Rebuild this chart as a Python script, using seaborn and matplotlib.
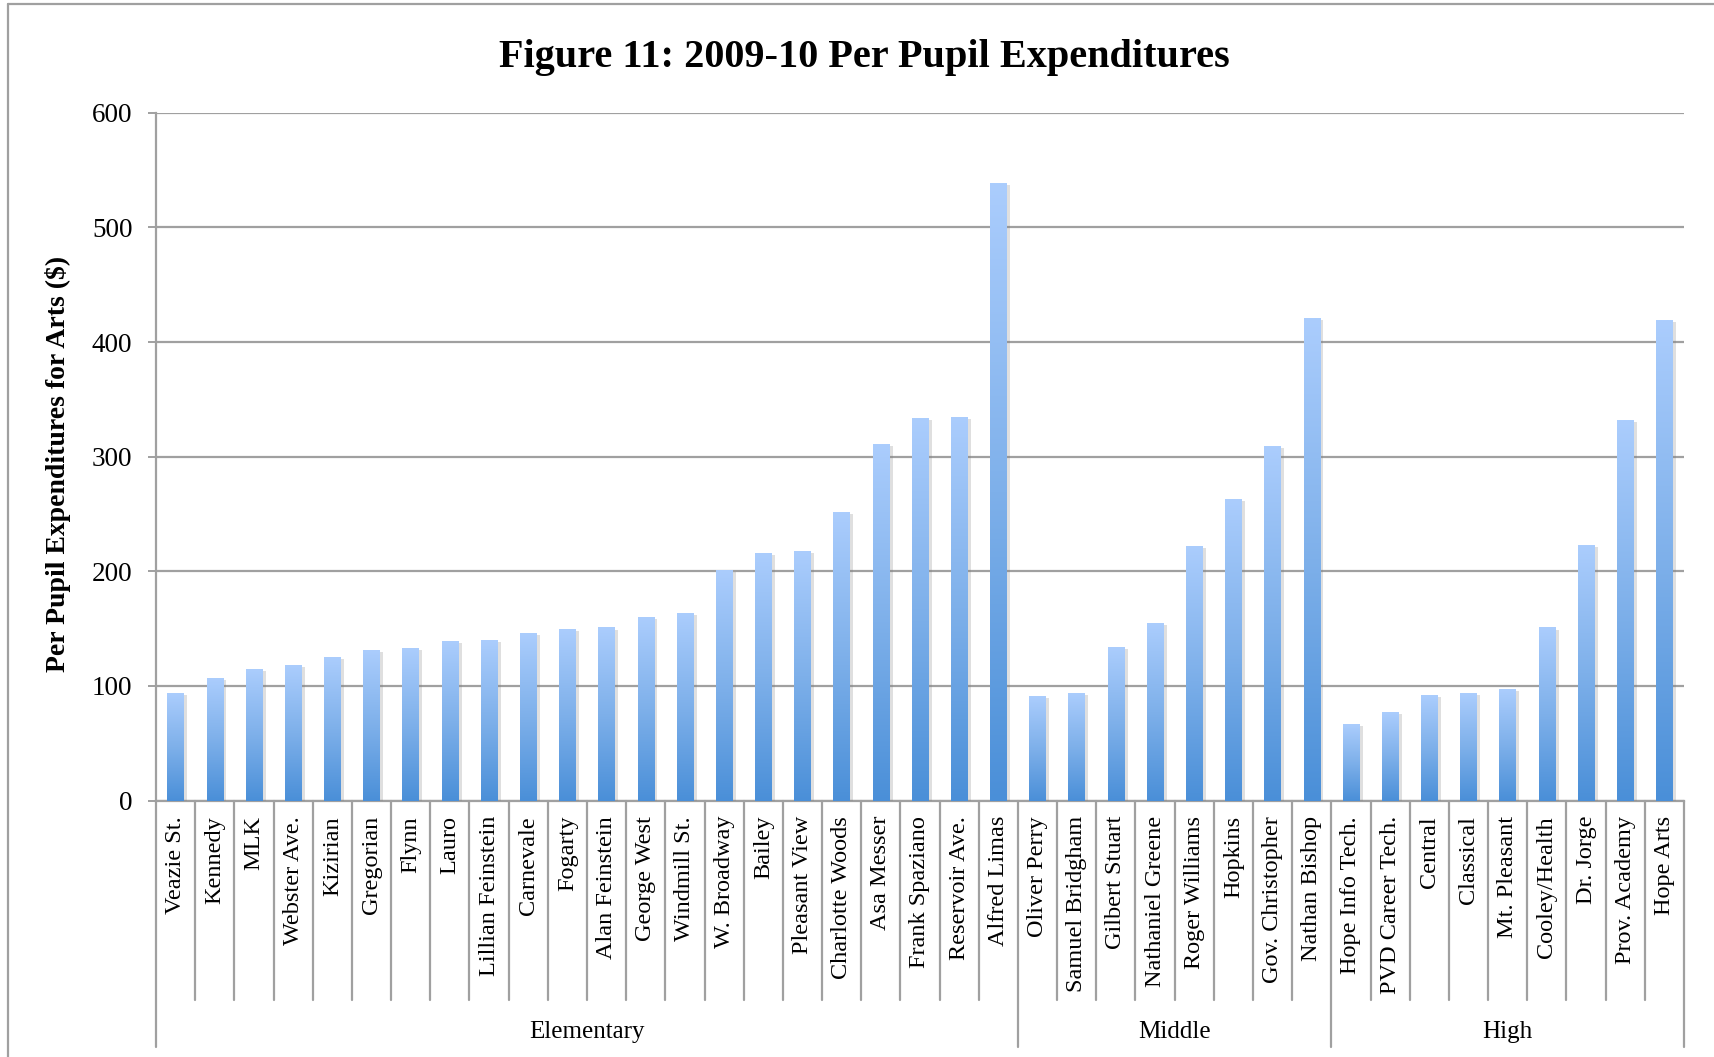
import numpy as np
import pandas as pd
import matplotlib
matplotlib.use("Agg")
import matplotlib.pyplot as plt
import matplotlib.patheffects as pe
from matplotlib.colors import LinearSegmentedColormap
from matplotlib.lines import Line2D
import seaborn as sns

# ---------------- data ----------------
schools = ["Veazie St.", "Kennedy", "MLK", "Webster Ave.", "Kizirian", "Gregorian", "Flynn",
           "Lauro", "Lillian Feinstein", "Carnevale", "Fogarty", "Alan Feinstein", "George West",
           "Windmill St.", "W. Broadway", "Bailey", "Pleasant View", "Charlotte Woods",
           "Asa Messer", "Frank Spaziano", "Reservoir Ave.", "Alfred Limas",
           "Oliver Perry", "Samuel Bridgham", "Gilbert Stuart", "Nathaniel Greene",
           "Roger Williams", "Hopkins", "Gov. Christopher", "Nathan Bishop",
           "Hope Info Tech.", "PVD Career Tech.", "Central", "Classical", "Mt. Pleasant",
           "Cooley/Health", "Dr. Jorge", "Prov. Academy", "Hope Arts"]
levels = ["Elementary"] * 22 + ["Middle"] * 8 + ["High"] * 9
group_names = ["Elementary", "Middle", "High"]
values = [94, 107, 115, 118, 125, 131, 133, 139, 140, 146, 150, 151, 160, 164, 201, 216, 218,
          252, 311, 334, 335, 539,
          91, 94, 134, 155, 222, 263, 309, 421,
          67, 77, 92, 94, 97, 151, 223, 332, 419]
y_ticks = [0, 100, 200, 300, 400, 500, 600]

title = "Figure 11: 2009-10 Per Pupil Expenditures"
y_label = "Per Pupil Expenditures for Arts ($)"

# ---------------- style ----------------
sns.set_theme(style="white")
plt.rcParams['font.family'] = ['Liberation Serif', 'DejaVu Serif']
GRAY = "#a0a0a0"

W, H = 1715, 1057
fig = plt.figure(figsize=(W / 100, H / 100), dpi=100)
ax_l, ax_r, ax_t, ax_b = 156, 1684, 112.7, 800.6
ax = fig.add_axes([ax_l / W, 1 - ax_b / H, (ax_r - ax_l) / W, (ax_b - ax_t) / H])

df = pd.DataFrame({"School": schools, "Level": levels, "Value": values})
sns.barplot(data=df, x="School", y="Value", ax=ax, width=0.42, color="#6fa3e6",
            saturation=1, zorder=3, errorbar=None)

cmap = LinearSegmentedColormap.from_list("grad", ["#4a8fd8", "#7eb0ea", "#abcdfd"])
grad = np.linspace(0, 1, 256).reshape(-1, 1)
for p in ax.patches:
    x0, y0 = p.get_x(), p.get_y()
    w, h = p.get_width(), p.get_height()
    p.set_facecolor("none")
    p.set_edgecolor("none")
    p.set_path_effects([pe.SimplePatchShadow(offset=(2.5, -1.5), shadow_rgbFace="#808080",
                                             alpha=0.25), pe.Normal()])
    im = ax.imshow(grad, extent=[x0, x0 + w, y0, y0 + h], origin="lower", aspect="auto",
                   cmap=cmap, zorder=4, interpolation="bilinear")
    im.set_clip_path(p)

n = len(schools)
ax.set_xlim(-0.5, n - 0.5)
ax.set_ylim(0, 600)
ax.set_yticks(y_ticks)
ax.yaxis.grid(True, color=GRAY, lw=1.6)
ax.set_axisbelow(True)
for s in ["top", "right"]:
    ax.spines[s].set_visible(False)
for s in ["left", "bottom"]:
    ax.spines[s].set_color(GRAY)
    ax.spines[s].set_linewidth(1.6)

ax.set_xlabel("")
ax.set_ylabel("")
ax.tick_params(axis="y", length=6, width=1.4, color=GRAY, labelsize=19.5, pad=11,
               labelcolor="black", left=True)
ax.tick_params(axis="x", length=0, labelsize=17.5, pad=11, labelcolor="black")
for lab in ax.get_xticklabels():
    lab.set_rotation(90)
    lab.set_va("top")
    lab.set_ha("center")

# category separators below the axis
tr = ax.get_xaxis_transform()
bounds = [i - 0.5 for i in range(n + 1)]
group_edges = [-0.5]
for g in group_names:
    group_edges.append(group_edges[-1] + levels.count(g))
for b in bounds:
    low = -0.358 if b in group_edges else -0.29
    ax.add_line(Line2D([b, b], [0, low], transform=tr, color=GRAY, lw=1.6, clip_on=False))
for i, g in enumerate(group_names):
    c = (group_edges[i] + group_edges[i + 1]) / 2
    ax.text(c, -0.336, g, transform=tr, ha="center", va="center", fontsize=18, color="black")

# titles
fig.text(864 / W, 1 - 58 / H, title, ha="center", va="center", fontsize=29,
         fontweight="bold", color="black")
fig.text(58 / W, 1 - 464 / H, y_label, ha="center", va="center", rotation=90,
         fontsize=20, fontweight="bold", color="black")

# outer border (left and top)
fig.add_artist(Line2D([8 / W, 8 / W], [0, 1 - 4 / H], transform=fig.transFigure,
                      color=GRAY, lw=1.6))
fig.add_artist(Line2D([8 / W, 1], [1 - 4 / H, 1 - 4 / H], transform=fig.transFigure,
                      color=GRAY, lw=1.6))

fig.savefig("out.png", dpi=100, facecolor="white")
